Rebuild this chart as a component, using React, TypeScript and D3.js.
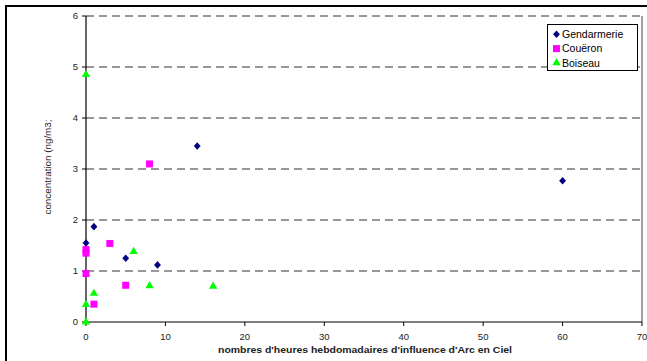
import React from "react";
import * as d3 from "d3";

// Concentrations per site vs weekly hours of Arc en Ciel influence
const gendarmerieHours = [0, 1, 5, 9, 14, 60];
const gendarmerieConc = [1.55, 1.87, 1.25, 1.12, 3.45, 2.77];

const coueronHours = [0, 0, 0, 1, 3, 5, 8];
const coueronConc = [1.42, 1.35, 0.95, 0.35, 1.54, 0.72, 3.1];

const boiseauHours = [0, 0, 0, 1, 6, 8, 16];
const boiseauConc = [4.85, 0.34, 0.0, 0.56, 1.38, 0.71, 0.7];

const xTicks = [0, 10, 20, 30, 40, 50, 60, 70];
const yTicks = [0, 1, 2, 3, 4, 5, 6];

const seriesNames = ["Gendarmerie", "Couëron", "Boiseau"];
const seriesColors = ["#000080", "#FF00FF", "#00FF00"];

const W = 647;
const H = 361;
const FONT = "'Liberation Sans', Arial, sans-serif";

export default function App() {
  const x = d3.scaleLinear().domain([0, 70]).range([86, 642]);
  const y = d3.scaleLinear().domain([0, 6]).range([322, 16]);

  const diamond = d3.symbol().type(d3.symbolDiamond2).size(30)()!;
  const triangle = d3
    .symbol()
    .type(d3.symbolTriangle)
    .size(30)()!;

  const marker = (i: number, cx: number, cy: number, key: string) => {
    const c = seriesColors[i];
    if (i === 0)
      return (
        <path key={key} d={diamond} transform={`translate(${cx},${cy}) scale(1,1.1)`} fill={c} />
      );
    if (i === 1)
      return <rect key={key} x={cx - 3.5} y={cy - 3.5} width={7} height={7} fill={c} />;
    return <path key={key} d={triangle} transform={`translate(${cx},${cy})`} fill={c} />;
  };

  const series = [
    { hx: gendarmerieHours, cy: gendarmerieConc },
    { hx: coueronHours, cy: coueronConc },
    { hx: boiseauHours, cy: boiseauConc },
  ];

  return (
    <svg
      width={W}
      height={H}
      style={{ position: "absolute", left: 0, top: 0, background: "#fff" }}
      fontFamily={FONT}
    >
      <rect x={0} y={0} width={W} height={H} fill="#fff" />
      {/* outer frame */}
      <line x1={6} x2={6} y1={5} y2={H} stroke="#000" strokeWidth={2} />
      <line x1={5} x2={W} y1={6} y2={6} stroke="#000" strokeWidth={2} />

      {/* dashed gridlines */}
      {yTicks
        .filter((t) => t > 0)
        .map((t) => (
          <line
            key={`g${t}`}
            x1={x(0)}
            x2={x(70)}
            y1={y(t)}
            y2={y(t)}
            stroke="#333"
            strokeWidth={1}
            strokeDasharray="8,5"
          />
        ))}

      {/* plot area right border */}
      <line x1={x(70)} x2={x(70)} y1={y(6)} y2={y(0)} stroke="#808080" strokeWidth={1.5} />

      {/* axes */}
      <line x1={x(0)} x2={x(0)} y1={y(6)} y2={y(0)} stroke="#000" strokeWidth={1.2} />
      <line x1={x(0)} x2={x(70)} y1={y(0)} y2={y(0)} stroke="#000" strokeWidth={1.2} />

      {yTicks.map((t) => (
        <g key={`yt${t}`}>
          <line x1={x(0) - 4} x2={x(0)} y1={y(t)} y2={y(t)} stroke="#000" />
          <text
            x={x(0) - 8}
            y={y(t)}
            dy="0.35em"
            textAnchor="end"
            fontSize={9.5}
            fill="#222"
          >
            {t}
          </text>
        </g>
      ))}
      {xTicks.map((t) => (
        <g key={`xt${t}`}>
          <line x1={x(t)} x2={x(t)} y1={y(0)} y2={y(0) + 4} stroke="#000" />
          <text x={x(t)} y={340} textAnchor="middle" fontSize={9.5} fill="#222">
            {t}
          </text>
        </g>
      ))}

      {/* axis titles */}
      <text
        x={365}
        y={353}
        textAnchor="middle"
        fontSize={8.5}
        fontWeight="bold"
        fill="#222"
        textLength={294}
        lengthAdjust="spacingAndGlyphs"
      >
        nombres d'heures hebdomadaires d'influence d'Arc en Ciel
      </text>
      <text
        transform="translate(51,167) rotate(-90)"
        textAnchor="middle"
        fontSize={8.5}
        fill="#222"
        textLength={95}
        lengthAdjust="spacingAndGlyphs"
      >
        concentration (ng/m3;
      </text>

      {/* data points */}
      {series.map((s, i) =>
        s.hx.map((h, j) => marker(i, x(h), y(s.cy[j]), `p${i}-${j}`))
      )}

      {/* legend */}
      <rect x={547.5} y={24.5} width={90} height={46} fill="#fff" stroke="#000" strokeWidth={1} />
      {seriesNames.map((name, i) => {
        const cy = 34.3 + i * 14.3;
        return (
          <g key={name}>
            {marker(i, 556.5, cy, `lg${i}`)}
            <text x={562} y={cy} dy="0.36em" fontSize={10.5} fill="#000">
              {name}
            </text>
          </g>
        );
      })}
    </svg>
  );
}
